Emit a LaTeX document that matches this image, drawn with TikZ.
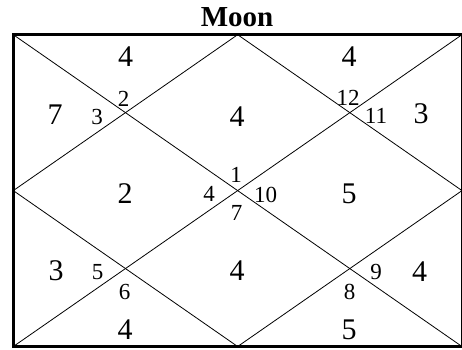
\documentclass[tikz,border=0pt]{standalone}
\usepackage{fontspec}
\setmainfont{Liberation Serif}

\begin{document}
\begin{tikzpicture}[x=1pt, y=-1pt,
    count/.style={font=\fontsize{30}{30}\selectfont, inner sep=0pt},
    sign/.style={font=\fontsize{23}{23}\selectfont, inner sep=0pt},
    grid line/.style={line width=0.8pt}]


    % ==========================================
    % FRAME OF THE CHART (y runs downwards)
    % ==========================================
    \pgfmathsetmacro{\xL}{13.3}   % left edge
    \pgfmathsetmacro{\xR}{462}    % right edge
    \pgfmathsetmacro{\yT}{34.7}   % top edge
    \pgfmathsetmacro{\yB}{346.5}  % bottom edge
    \pgfmathsetmacro{\xM}{(\xL + \xR)/2}
    \pgfmathsetmacro{\yM}{(\yT + \yB)/2}
    % ==========================================

    \useasboundingbox (0,0) rectangle (462,349);

    % Corners and midpoints of the sides
    \coordinate (tl) at (\xL, \yT);
    \coordinate (tr) at (\xR, \yT);
    \coordinate (bl) at (\xL, \yB);
    \coordinate (br) at (\xR, \yB);
    \coordinate (tm) at (\xM, \yT);
    \coordinate (bm) at (\xM, \yB);
    \coordinate (lm) at (\xL, \yM);
    \coordinate (rm) at (\xR, \yM);

    % Title
    \node[font=\bfseries\fontsize{29}{29}\selectfont, inner sep=0pt] (title) at (237, 17) {Moon};

    % Diagonals and inner diamond
    \draw[grid line] (tl) -- (br);
    \draw[grid line] (tr) -- (bl);
    \draw[grid line] (tm) -- (rm) -- (bm) -- (lm) -- cycle;

    % Outer frame
    \draw[line width=3pt] (tl) rectangle (br);

    % Planet counts (large numbers)
    \node[count] (c1)  at (237, 117)   {4};
    \node[count] (c2)  at (125.5, 56.5) {4};
    \node[count] (c3)  at (55, 115)    {7};
    \node[count] (c4)  at (125, 194)   {2};
    \node[count] (c5)  at (56, 271)    {3};
    \node[count] (c6)  at (125, 330)   {4};
    \node[count] (c7)  at (237, 271)   {4};
    \node[count] (c8)  at (349, 330)   {5};
    \node[count] (c9)  at (419.5, 272) {4};
    \node[count] (c10) at (349, 194)   {5};
    \node[count] (c11) at (421, 114)   {3};
    \node[count] (c12) at (349, 56.5)  {4};

    % Sign numbers (small numbers next to the crossings)
    \node[sign] (s1)  at (236, 175)    {1};
    \node[sign] (s2)  at (123.5, 99)   {2};
    \node[sign] (s3)  at (97, 116.5)   {3};
    \node[sign] (s4)  at (209, 194)    {4};
    \node[sign] (s5)  at (97.5, 272)   {5};
    \node[sign] (s6)  at (124.5, 292)  {6};
    \node[sign] (s7)  at (236.5, 213)  {7};
    \node[sign] (s8)  at (349.5, 292)  {8};
    \node[sign] (s9)  at (376, 272)    {9};
    \node[sign] (s10) at (265.5, 194.5) {10};
    \node[sign] (s11) at (376, 116)    {11};
    \node[sign] (s12) at (348, 97.5)   {12};

\end{tikzpicture}
\end{document}
